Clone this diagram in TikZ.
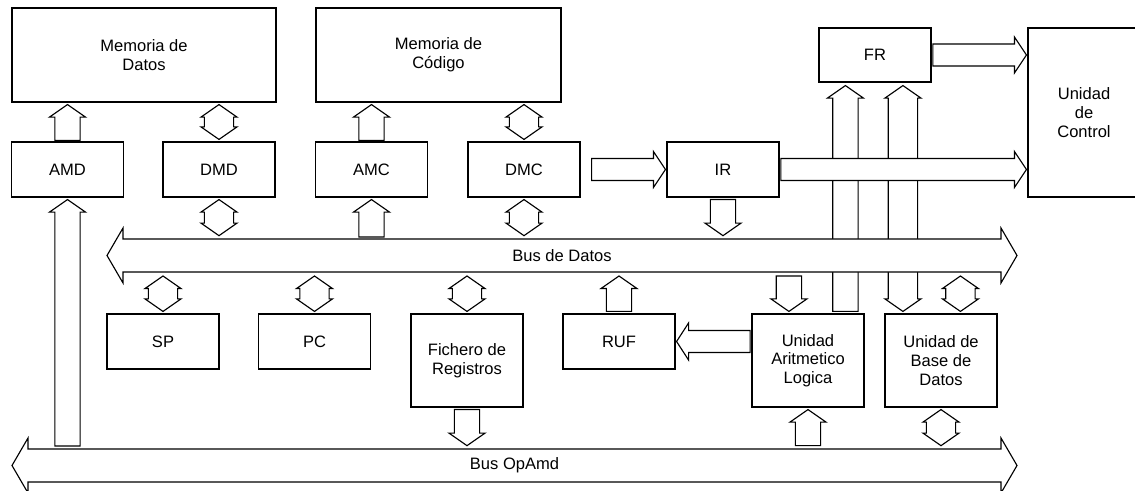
\documentclass[tikz,border=0pt]{standalone}
\usepackage{fontspec}
\setmainfont{Liberation Sans}
\usetikzlibrary{calc}

\tikzset{
  bodyw/.store in=\fatbw, headw/.store in=\fathw, headl/.store in=\fathl,
  sgap/.store in=\fatsg, egap/.store in=\fateg,
  bodyw=9.5pt, headw=13.5pt, headl=9.4pt, sgap=1.5pt, egap=1.5pt,
  fat/.style={draw,fill=white,line width=0.85pt,
    to path={let \p1=(\tikztostart), \p2=(\tikztotarget), \n1={atan2(\y2-\y1,\x2-\x1)} in
      ($(\p1)+(\n1:\fatsg)+(\n1+90:\fatbw)$)
      -- ($(\p2)+(\n1:-\fateg)+(\n1:-\fathl)+(\n1+90:\fatbw)$)
      -- ($(\p2)+(\n1:-\fateg)+(\n1:-\fathl)+(\n1+90:\fathw)$)
      -- ($(\p2)+(\n1:-\fateg)$)
      -- ($(\p2)+(\n1:-\fateg)+(\n1:-\fathl)+(\n1-90:\fathw)$)
      -- ($(\p2)+(\n1:-\fateg)+(\n1:-\fathl)+(\n1-90:\fatbw)$)
      -- ($(\p1)+(\n1:\fatsg)+(\n1-90:\fatbw)$) -- cycle}},
  fatboth/.style={draw,fill=white,line width=0.85pt,bodyw=11pt,
    to path={let \p1=(\tikztostart), \p2=(\tikztotarget), \n1={atan2(\y2-\y1,\x2-\x1)} in
      ($(\p1)+(\n1:\fatsg)$)
      -- ($(\p1)+(\n1:\fatsg)+(\n1:\fathl)+(\n1+90:\fathw)$)
      -- ($(\p1)+(\n1:\fatsg)+(\n1:\fathl)+(\n1+90:\fatbw)$)
      -- ($(\p2)+(\n1:-\fateg)+(\n1:-\fathl)+(\n1+90:\fatbw)$)
      -- ($(\p2)+(\n1:-\fateg)+(\n1:-\fathl)+(\n1+90:\fathw)$)
      -- ($(\p2)+(\n1:-\fateg)$)
      -- ($(\p2)+(\n1:-\fateg)+(\n1:-\fathl)+(\n1-90:\fathw)$)
      -- ($(\p2)+(\n1:-\fateg)+(\n1:-\fathl)+(\n1-90:\fatbw)$)
      -- ($(\p1)+(\n1:\fatsg)+(\n1:\fathl)+(\n1-90:\fatbw)$)
      -- ($(\p1)+(\n1:\fatsg)+(\n1:\fathl)+(\n1-90:\fathw)$) -- cycle}},
  flat/.style={bodyw=8.25pt,headl=9pt},
  bus/.style={fatboth,bodyw=12.4pt,headw=20.6pt,headl=12pt,sgap=0pt,egap=0pt},
  box/.style={draw,line width=0.85pt,minimum width=84pt,minimum height=41.25pt,
    inner sep=0pt,align=center,font=\fontsize{12.4}{14}\selectfont},
  buslabel/.style={font=\fontsize{12.4}{14}\selectfont},
}

\begin{document}
\begin{tikzpicture}[x=0.75pt,y=-0.75pt]
    \useasboundingbox (0,0) rectangle (1135,491);

    \node[box,minimum width=198pt,minimum height=70.5pt] (memd) at (144,55) {Memoria de\\Datos};
    \node[box,minimum width=183.75pt,minimum height=70.5pt] (memc) at (438.5,55) {Memoria de\\Código};
    \node[box] (amd) at (67.5,169.5) {AMD};
    \node[box] (dmd) at (219,169.5) {DMD};
    \node[box] (amc) at (371.5,169.5) {AMC};
    \node[box] (dmc) at (524,169.5) {DMC};
    \node[box] (ir) at (723,169.5) {IR};
    \node[box,minimum height=40.5pt] (fr) at (875,55) {FR};
    \node[box,minimum height=126.75pt] (uc) at (1084,112.5) {Unidad\\de\\Control};
    \node[box] (sp) at (163,341.5) {SP};
    \node[box] (pc) at (314.5,341.5) {PC};
    \node[box,minimum height=69.75pt] (fich) at (467,360.5) {Fichero de\\Registros};
    \node[box] (ruf) at (619,341.5) {RUF};
    \node[box,minimum height=69.75pt] (alu) at (808,360.5) {Unidad\\Aritmetico\\Logica};
    \node[box,minimum height=69.75pt] (ubd) at (941,360.5) {Unidad de\\Base de\\Datos};

    \coordinate (bd-l) at (107,255.5);
    \coordinate (bd-r) at (1017,255.5);
    \coordinate (bd-t) at (562,239);
    \coordinate (bd-b) at (562,272);
    \coordinate (bo-l) at (12,465.5);
    \coordinate (bo-r) at (1017,465.5);
    \coordinate (bo-t) at (514,449);
    \coordinate (alu-a) at ($(alu.north west)+(37.5,0)$);
    \coordinate (alu-b) at ($(alu.north west)+(94,0)$);
    \coordinate (ubd-a) at ($(ubd.north west)+(18.5,0)$);
    \coordinate (ubd-b) at ($(ubd.north west)+(76,0)$);

    \draw[fat,egap=2.25pt] (alu-b) to (alu-b |- fr.south);
    \draw[fatboth,egap=2.25pt] (ubd-a) to (ubd-a |- fr.south);

    \draw[fat,sgap=0.75pt] (amd.north) to (amd.north |- memd.south);
    \draw[fatboth] (dmd.north) to (dmd.north |- memd.south);
    \draw[fat,sgap=0.75pt] (amc.north) to (amc.north |- memc.south);
    \draw[fatboth] (dmc.north) to (dmc.north |- memc.south);
    \draw[fat,flat,sgap=8.25pt,egap=0.75pt] (dmc.east) to (ir.west);
    \draw[fat,flat,sgap=1pt,egap=0.75pt] (fr.east) to (fr.east -| uc.west);
    \draw[fat,flat,sgap=1pt,egap=0.75pt] (ir.east) to (ir.east -| uc.west);

    \draw[fatboth,egap=2.5pt] (dmd.south) to (dmd.south |- bd-t);
    \draw[fat] (amc.south |- bd-t) to (amc.south);
    \draw[fatboth,egap=2.5pt] (dmc.south) to (dmc.south |- bd-t);
    \draw[fat,egap=2.5pt] (ir.south) to (ir.south |- bd-t);
    \draw[fat,sgap=2.25pt] (amd.south |- bo-t) to (amd.south);

    \draw[bus] (bd-l) to (bd-r);
    \node[buslabel] (bdlabel) at ($(bd-l)!0.5!(bd-r)$) {Bus de Datos};
    \draw[bus] (bo-l) to (bo-r);
    \node[buslabel] (bolabel) at ($(bo-l)!0.5!(bo-r)$) {Bus OpAmd};

    \draw[fatboth,sgap=3pt] (sp.north |- bd-b) to (sp.north);
    \draw[fatboth,sgap=3pt] (pc.north |- bd-b) to (pc.north);
    \draw[fatboth,sgap=3pt] (fich.north |- bd-b) to (fich.north);
    \draw[fat,egap=2.5pt] (fich.south) to (fich.south |- bo-t);
    \draw[fat,egap=3pt] (ruf.north) to (ruf.north |- bd-b);
    \draw[fat,flat,headw=13.9pt,sgap=1pt,egap=0.75pt] (alu.west |- ruf.east) to (ruf.east);
    \draw[fat,sgap=3pt] (alu-a |- bd-b) to (alu-a);
    \draw[fat,sgap=2.5pt] (alu.south |- bo-t) to (alu.south);
    \draw[fatboth,sgap=3pt] (ubd-b |- bd-b) to (ubd-b);
    \draw[fatboth,egap=2.5pt] (ubd.south) to (ubd.south |- bo-t);
\end{tikzpicture}
\end{document}
